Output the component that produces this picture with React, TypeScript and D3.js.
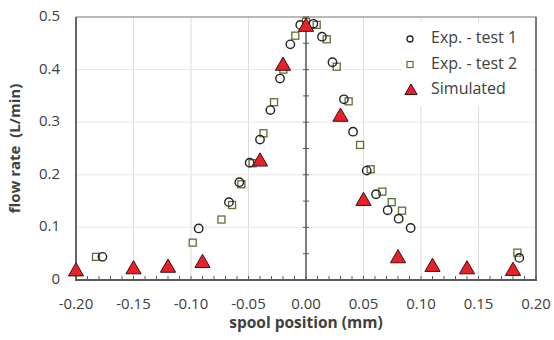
import React from "react";
import * as d3 from "d3";

const test1X = [-0.177, -0.0933, -0.067, -0.058, -0.049, -0.040, -0.031, -0.0226, -0.0136, -0.005, 0.0064, 0.0139, 0.023, 0.033, 0.0409, 0.0528, 0.0609, 0.071, 0.0806, 0.091, 0.1855];
const test1Y = [0.044, 0.098, 0.148, 0.186, 0.223, 0.267, 0.323, 0.383, 0.448, 0.485, 0.487, 0.4626, 0.414, 0.3435, 0.282, 0.208, 0.163, 0.1325, 0.1166, 0.0989, 0.042];

const test2X = [-0.1826, -0.0985, -0.0735, -0.0643, -0.0562, -0.0464, -0.037, -0.0278, -0.0197, -0.0093, 0.0, 0.0093, 0.018, 0.0267, 0.0371, 0.047, 0.0562, 0.0664, 0.0745, 0.0835, 0.1838];
const test2Y = [0.044, 0.071, 0.115, 0.1426, 0.182, 0.222, 0.279, 0.338, 0.4, 0.4645, 0.491, 0.485, 0.4576, 0.4055, 0.3397, 0.2567, 0.2105, 0.168, 0.148, 0.1318, 0.052];

const simX = [-0.2, -0.15, -0.12, -0.09, -0.04, -0.02, 0.0, 0.03, 0.05, 0.08, 0.11, 0.14, 0.18];
const simY = [0.018, 0.022, 0.025, 0.034, 0.227, 0.409, 0.483, 0.312, 0.152, 0.043, 0.0266, 0.022, 0.019];

const xTicks = [-0.2, -0.15, -0.1, -0.05, 0, 0.05, 0.1, 0.15, 0.2];
const yTicks = [0, 0.1, 0.2, 0.3, 0.4, 0.5];
const legendLabels = ["Exp. - test 1", "Exp. - test 2", "Simulated"];

const W = 554, H = 340;
const L = 76, R = 536, T = 17, B = 280;
const FONT = "'Open Sans', sans-serif";

export default function App() {
  const x = d3.scaleLinear().domain([-0.2, 0.2]).range([L, R]);
  const y = d3.scaleLinear().domain([0, 0.5]).range([B, T]);
  const minorX = d3.range(-200, 201, 10).map((v) => v / 1000);
  const yAxisTicks = d3.range(0, 501, 50).map((v) => v / 1000);
  const tri = d3.symbol().type(d3.symbolTriangle).size(100)();
  const txtColor = "#404040";
  const legY = [39, 64.5, 90];

  return (
    <svg width={W} height={H} style={{ position: "absolute", left: 0, top: 0, background: "#fff" }}>
      {/* gridlines */}
      {xTicks.map((t) => (
        <line key={"gx" + t} x1={x(t)} x2={x(t)} y1={T} y2={B} stroke="#dcdcdc" strokeWidth={1} />
      ))}
      {yTicks.map((t) => (
        <line key={"gy" + t} x1={L} x2={R} y1={y(t)} y2={y(t)} stroke="#e6e6e6" strokeWidth={1} />
      ))}
      {/* legend background */}
      <rect x={402} y={22} width={130} height={84} fill="#fff" />
      {/* plot border */}
      <rect x={L} y={T} width={R - L} height={B - T} fill="none" stroke="#7f7f7f" strokeWidth={1} />
      <line x1={L} x2={L} y1={T} y2={B} stroke="#666" strokeWidth={2} />
      <line x1={R} x2={R} y1={T} y2={B} stroke="#666" strokeWidth={1.5} />
      {/* x=0 axis */}
      <line x1={x(0)} x2={x(0)} y1={T} y2={B} stroke="#595959" strokeWidth={1.5} />
      {yAxisTicks.map((t) => (
        <line key={"yt" + t} x1={x(0) - 3} x2={x(0) + 3} y1={y(t)} y2={y(t)} stroke="#595959" strokeWidth={1} />
      ))}
      {/* bottom axis */}
      {minorX.map((t) => (
        <line key={"mx" + t} x1={x(t)} x2={x(t)} y1={B} y2={B - 4} stroke="#595959" strokeWidth={1} />
      ))}
      <line x1={L - 1} x2={R + 1} y1={B} y2={B} stroke="#595959" strokeWidth={2} />

      {/* series: test 2 squares */}
      {test2X.map((v, i) => (
        <rect key={"s" + i} x={x(v) - 3.5} y={y(test2Y[i]) - 3.5} width={7} height={7} fill="#fff" stroke="#5b7033" strokeWidth={1.3} />
      ))}
      {/* test 1 circles */}
      {test1X.map((v, i) => (
        <circle key={"c" + i} cx={x(v)} cy={y(test1Y[i])} r={4.2} fill="none" stroke="#222" strokeWidth={1.4} />
      ))}
      {/* simulated triangles */}
      {simX.map((v, i) => (
        <path key={"t" + i} d={tri} transform={`translate(${x(v)},${y(simY[i]) + 1})`} fill="#e8202a" stroke="#3a1010" strokeWidth={1} />
      ))}

      {/* tick labels */}
      {xTicks.map((t) => (
        <text key={"xl" + t} x={x(t)} y={305} textAnchor="middle" dominantBaseline="middle" fontFamily={FONT} fontSize={15} fill={txtColor}>
          {d3.format(".2f")(t).replace("−", "-")}
        </text>
      ))}
      {yTicks.map((t) => (
        <text key={"yl" + t} x={60} y={y(t)} textAnchor="end" dominantBaseline="middle" fontFamily={FONT} fontSize={15} fill={txtColor}>
          {t === 0 ? "0" : d3.format(".1f")(t)}
        </text>
      ))}
      {/* axis titles */}
      <text x={306} y={324} textAnchor="middle" dominantBaseline="middle" fontFamily={FONT} fontSize={15.5} fontWeight="bold" fill={txtColor}>
        spool position (mm)
      </text>
      <text transform={`translate(16,${(T + B) / 2}) rotate(-90)`} textAnchor="middle" dominantBaseline="middle" fontFamily={FONT} fontSize={15} fontWeight="bold" fill={txtColor} style={{ whiteSpace: "pre" }}>
        {"flow rate  (L/min)"}
      </text>

      {/* legend */}
      <circle cx={410} cy={legY[0]} r={3} fill="none" stroke="#222" strokeWidth={1.3} />
      <rect x={407} y={legY[1] - 3} width={6} height={6} fill="#fff" stroke="#5b7033" strokeWidth={1.2} />
      <path d={d3.symbol().type(d3.symbolTriangle).size(65)()} transform={`translate(411,${legY[2] + 1})`} fill="#e8202a" stroke="#3a1010" strokeWidth={1} />
      {legendLabels.map((lab, i) => (
        <text key={lab} x={431} y={legY[i]} dominantBaseline="middle" fontFamily={FONT} fontSize={16} fill={txtColor}>
          {lab}
        </text>
      ))}
    </svg>
  );
}
